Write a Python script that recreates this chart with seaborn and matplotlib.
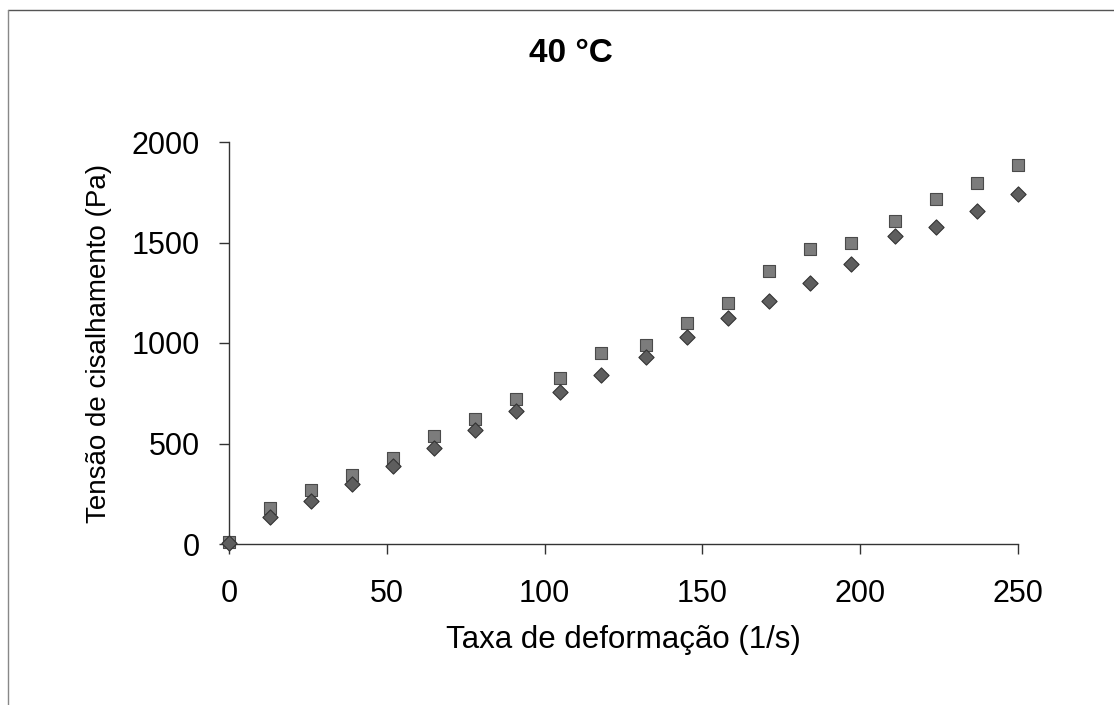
import matplotlib
matplotlib.use("Agg")
import matplotlib.pyplot as plt
import seaborn as sns
import pandas as pd
from matplotlib.lines import Line2D

# Data
shear_rate = [0, 13, 26, 39, 52, 65, 78, 91, 105, 118, 132, 145, 158, 171, 184, 197, 211, 224, 237, 250]
stress_squares = [10, 179, 270, 344, 430, 535, 621, 720, 825, 952, 990, 1101, 1197, 1358, 1468, 1498, 1608, 1715, 1796, 1884]
stress_diamonds = [7, 134, 212, 300, 389, 477, 568, 662, 755, 843, 929, 1031, 1123, 1210, 1300, 1391, 1532, 1578, 1657, 1740]
series_names = ["A", "B"]
x_ticks = [0, 50, 100, 150, 200, 250]
y_ticks = [0, 500, 1000, 1500, 2000]

title = "40 °C"
xlabel = "Taxa de deformação (1/s)"
ylabel = "Tensão de cisalhamento (Pa)"

sns.set_theme(style="white")
plt.rcParams["font.family"] = ["Liberation Sans", "DejaVu Sans"]
plt.rcParams["text.color"] = "black"
plt.rcParams["axes.labelcolor"] = "black"

df = pd.concat([
    pd.DataFrame({"x": shear_rate, "y": stress_squares, "s": series_names[0]}),
    pd.DataFrame({"x": shear_rate, "y": stress_diamonds, "s": series_names[1]}),
])

fig = plt.figure(figsize=(11.14, 7.05), dpi=100)
ax = fig.add_axes([229/1114, 1-544/705, (1018-229)/1114, (544-142)/705])

sns.scatterplot(data=df[df.s == series_names[0]], x="x", y="y", marker="s", s=85,
                color="#7c7c7c", edgecolor="#4a4a4a", linewidth=0.8, ax=ax, legend=False,
                zorder=3, clip_on=False)
sns.scatterplot(data=df[df.s == series_names[1]], x="x", y="y", marker="D", s=60,
                color="#5e5e5e", edgecolor="#333333", linewidth=0.8, ax=ax, legend=False,
                zorder=4, clip_on=False)

ax.set_xlim(0, 250)
ax.set_ylim(0, 2000)
ax.set_xticks(x_ticks)
ax.set_yticks(y_ticks)
ax.set_xticklabels([str(v) for v in x_ticks])
ax.set_yticklabels([str(v) for v in y_ticks])
for side in ["top", "right"]:
    ax.spines[side].set_visible(False)
for side in ["left", "bottom"]:
    ax.spines[side].set_color("#333333")
    ax.spines[side].set_linewidth(1.0)
ax.tick_params(axis="both", direction="out", length=7, width=1, color="#333333",
               labelsize=22, labelcolor="black", bottom=True, left=True)
ax.tick_params(axis="x", pad=18)
ax.tick_params(axis="y", pad=14)
ax.set_xlabel(xlabel, fontsize=22.5, labelpad=12, color="black")
ax.set_ylabel(ylabel, fontsize=20, labelpad=14, color="black")
ax.grid(False)

fig.text(571/1114, 1-53/705, title, ha="center", va="center", fontsize=24,
         fontweight="bold", color="black")

# figure frame (top and left edges visible in reference)
fig.add_artist(Line2D([8/1114, 1], [1-10/705, 1-10/705], transform=fig.transFigure, color="#555555", lw=1))
fig.add_artist(Line2D([8/1114, 8/1114], [0, 1-10/705], transform=fig.transFigure, color="#888888", lw=1))

fig.savefig("out.png", dpi=100, facecolor="white")
